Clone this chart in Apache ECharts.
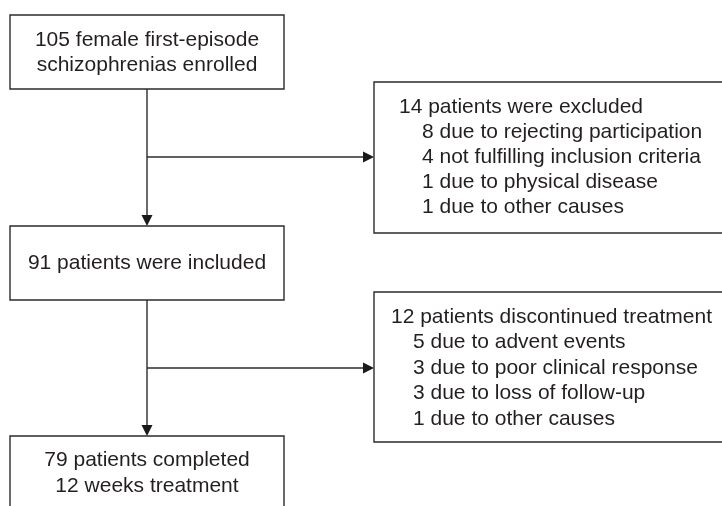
<!DOCTYPE html>
<html>
<head>
<meta charset="utf-8">
<script src="https://cdn.jsdelivr.net/npm/echarts@6/dist/echarts.min.js"></script>
<style>
  html, body { margin: 0; padding: 0; background: #ffffff; }
  #chart { width: 722px; height: 506px; }
</style>
</head>
<body>
<div id="chart"></div>
<script>
// texts of each box, top-down then side boxes
var boxLines = [
  ['105 female first-episode', 'schizophrenias enrolled'],
  ['14 patients were excluded', '8 due to rejecting participation', '4 not fulfilling inclusion criteria', '1 due to physical disease', '1 due to other causes'],
  ['91 patients were included'],
  ['12 patients discontinued treatment', '5 due to advent events', '3 due to poor clinical response', '3 due to loss of follow-up', '1 due to other causes'],
  ['79 patients completed', '12 weeks treatment']
];

// layout (page units, y downward)
var boxX0 = [10, 374, 10, 374, 10];
var boxX1 = [284, 724, 284, 724, 284];
var boxY0 = [15, 82, 226, 292, 436];
var boxY1 = [89, 233, 300, 442, 530];
var textY0 = [40, 107, 263, 317, 460];   // centre of first text line
var lineGap = [25, 25, 25, 25.5, 26];
var textX = [147, 399, 147, 391, 147];    // centre for main boxes, left for side boxes
var indentX = [147, 422, 147, 413, 147];
var centered = [true, false, true, false, true];

// connectors: [x0, y0, x1, y1]
var arrows = [
  [147, 89, 147, 226],
  [147, 157, 374, 157],
  [147, 300, 147, 436],
  [147, 368, 374, 368]
];

var ink = '#2b2b2b';
var font = '"Liberation Sans", Arial, sans-serif';

var chart = echarts.init(document.getElementById('chart'));

function boxItem(params, api) {
  var i = params.dataIndex;
  var p0 = api.coord([boxX0[i], boxY0[i]]);
  var p1 = api.coord([boxX1[i], boxY1[i]]);
  var children = [{
    type: 'rect',
    shape: { x: p0[0], y: p0[1], width: p1[0] - p0[0], height: p1[1] - p0[1] },
    style: { fill: '#fff', stroke: ink, lineWidth: 1.4 }
  }];
  boxLines[i].forEach(function (t, k) {
    var x = k === 0 ? textX[i] : indentX[i];
    var pt = api.coord([x, textY0[i] + k * lineGap[i]]);
    children.push({
      type: 'text',
      style: {
        x: pt[0], y: pt[1], text: t,
        fill: '#231f20', font: '21px ' + font,
        align: centered[i] ? 'center' : 'left', verticalAlign: 'middle'
      }
    });
  });
  return { type: 'group', children: children };
}

function arrowItem(params, api) {
  var a = arrows[params.dataIndex];
  var s = api.coord([a[0], a[1]]);
  var e = api.coord([a[2], a[3]]);
  var dx = e[0] - s[0], dy = e[1] - s[1];
  var len = Math.sqrt(dx * dx + dy * dy);
  var ux = dx / len, uy = dy / len;
  var hl = 11, hw = 5.5;
  var bx = e[0] - ux * hl, by = e[1] - uy * hl;
  return {
    type: 'group',
    children: [{
      type: 'line',
      shape: { x1: s[0], y1: s[1], x2: bx, y2: by },
      style: { stroke: ink, lineWidth: 1.4 }
    }, {
      type: 'polygon',
      shape: { points: [[e[0], e[1]], [bx - uy * hw, by + ux * hw], [bx + uy * hw, by - ux * hw]] },
      style: { fill: '#1a1a1a' }
    }]
  };
}

chart.setOption({
  animation: false,
  grid: { left: 0, right: 0, top: 0, bottom: 0 },
  xAxis: { type: 'value', min: 0, max: 722, show: false },
  yAxis: { type: 'value', min: 0, max: 506, inverse: true, show: false },
  series: [{
    type: 'custom',
    coordinateSystem: 'cartesian2d',
    renderItem: arrowItem,
    data: arrows.map(function (a) { return [a[0], a[1]]; }),
    clip: true,
    z: 1
  }, {
    type: 'custom',
    coordinateSystem: 'cartesian2d',
    renderItem: boxItem,
    data: boxLines.map(function (l, i) { return [boxX0[i], boxY0[i]]; }),
    clip: true,
    z: 2
  }]
});
</script>
</body>
</html>
